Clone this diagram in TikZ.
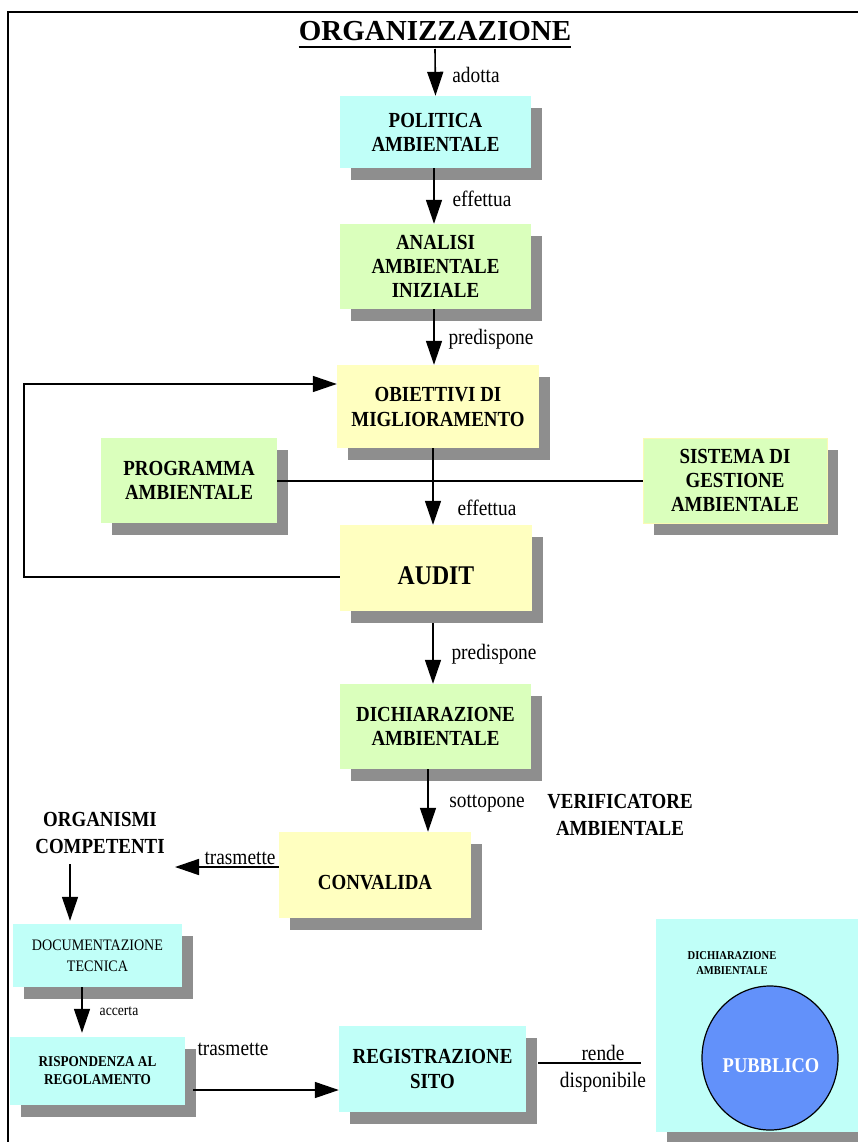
\documentclass[tikz,border=0pt]{standalone}
\usepackage{fontspec}
\setmainfont{Liberation Serif}[FakeStretch=0.88]
\newfontfamily\titlefont{Liberation Serif}
\usetikzlibrary{shadows,shapes.geometric,arrows.meta}
\definecolor{cyanbox}{RGB}{192,255,248}
\definecolor{greenbox}{RGB}{218,255,188}
\definecolor{yellowbox}{RGB}{255,255,192}
\definecolor{shgray}{RGB}{142,142,142}
\definecolor{pubblue}{RGB}{98,145,250}
\definecolor{sisborder}{RGB}{250,250,180}
\begin{document}
\begin{tikzpicture}[x=1pt,y=-1pt,
  box/.style={rectangle, inner sep=0pt, align=center,
    font=\fontsize{21.5}{24}\selectfont\bfseries,
    general shadow={fill=shgray, shadow xshift=11pt, shadow yshift=-12pt}},
  lbl/.style={anchor=base, inner sep=0pt, font=\fontsize{22}{24}\selectfont},
  arr/.style={line width=1.6pt, -{Triangle[length=24pt,width=16pt]}},
  ln/.style={line width=1.8pt},
  free/.style={align=center, inner sep=0pt, font=\fontsize{21.5}{27}\selectfont\bfseries}]
\clip (0,0) rectangle (858,1142);
\fill[white] (0,0) rectangle (858,1142);
% frame
\draw[line width=1.8pt] (8,1142) -- (8,12) -- (858,12);

% boxes
\node[box, fill=cyanbox, minimum width=191pt, minimum height=72pt] (pol) at (435.5,132) {POLITICA\\AMBIENTALE};
\node[box, fill=greenbox, minimum width=191pt, minimum height=85pt] (ana) at (435.5,266.5) {ANALISI\\AMBIENTALE\\INIZIALE};
\node[box, fill=yellowbox, minimum width=202pt, minimum height=83pt, font=\fontsize{21.5}{25}\selectfont\bfseries] (obi) at (438,406.5) {OBIETTIVI DI\\MIGLIORAMENTO};
\node[box, fill=greenbox, minimum width=176pt, minimum height=85pt] (prog) at (189,480.5) {PROGRAMMA\\AMBIENTALE};
\node[box, fill=greenbox, draw=sisborder, line width=1pt, minimum width=184pt, minimum height=85pt] (sis) at (735,480.5) {SISTEMA DI\\GESTIONE\\AMBIENTALE};
\node[box, fill=yellowbox, minimum width=192pt, minimum height=86pt, text height=32pt, text depth=0pt, font=\fontsize{27}{30}\selectfont\bfseries] (aud) at (436,568) {AUDIT};
\node[box, fill=greenbox, minimum width=191pt, minimum height=85pt] (dich) at (435.5,726.5) {DICHIARAZIONE\\AMBIENTALE};
\node[box, fill=yellowbox, minimum width=192pt, minimum height=86pt, text height=28pt, text depth=0pt] (conv) at (375,875) {CONVALIDA};
\node[box, fill=cyanbox, minimum width=169pt, minimum height=63pt, font=\fontsize{16}{21}\selectfont] (doc) at (97.5,955.5) {DOCUMENTAZIONE\\TECNICA};
\node[box, fill=cyanbox, minimum width=175pt, minimum height=68pt, font=\fontsize{15}{18}\selectfont\bfseries] (risp) at (97.5,1071) {RISPONDENZA AL\\REGOLAMENTO};
\node[box, fill=cyanbox, minimum width=187pt, minimum height=86pt, font=\fontsize{21.5}{25}\selectfont\bfseries] (reg) at (432.5,1069) {REGISTRAZIONE\\SITO};
\node[box, fill=cyanbox, minimum width=214pt, minimum height=213pt] (pubbox) at (763,1025.5) {};
\node[free, font=\fontsize{12}{15}\selectfont\bfseries] (pubhead) at (732,963) {DICHIARAZIONE\\AMBIENTALE};
\node[ellipse, draw, line width=1.2pt, fill=pubblue, minimum width=136pt, minimum height=144pt] (pub) at (770,1058) {};
\node[free, text=white, font=\fontsize{21}{24}\selectfont\bfseries] (pubt) at (771,1066) {PUBBLICO};

% free texts
\node[anchor=base, inner sep=0pt, font=\titlefont\fontsize{29}{30}\selectfont\bfseries] (title) at (435,41) {ORGANIZZAZIONE};
\draw[line width=2pt] ([yshift=-6pt]title.base west) -- ([yshift=-6pt]title.base east);
\node[free] (org) at (100,833) {ORGANISMI\\COMPETENTI};
\node[free] (ver) at (620,815) {VERIFICATORE\\AMBIENTALE};

% connectors
\draw[arr] ([yshift=-8pt]title.base) -- (pol.north);
\draw[arr] ([xshift=-1.5pt]pol.south) -- ([xshift=-1.5pt]ana.north);
\draw[arr] ([xshift=-1.5pt]ana.south) -- ([xshift=-1.5pt]ana.south |- obi.north);
\draw[arr] ([xshift=-5pt]obi.south) -- ([xshift=-5pt]obi.south |- aud.north);
\draw[ln] ([yshift=-0.5pt]prog.east) -- ([yshift=-0.5pt]sis.west);
\coordinate (fb1) at (24,577);
\coordinate (fb2) at (24,384);
\draw[arr] ([yshift=-9pt]aud.west) -- (fb1) -- (fb2) -- (obi.west |- fb2);
\draw[arr] ([xshift=-3pt,yshift=-12pt]aud.south) -- ([xshift=-3pt]aud.south |- dich.north);
\draw[arr] ([xshift=-7.5pt]dich.south) -- ([xshift=-7.5pt]dich.south |- conv.north);
\coordinate (t1) at (175,867);
\draw[arr] (conv.west |- t1) -- (t1);
\coordinate (o1) at (70,864);
\draw[arr, shorten >=3pt] (o1) -- (o1 |- doc.north);
\draw[arr, shorten >=4pt] ([xshift=-15.5pt]doc.south) -- ([xshift=-15.5pt]doc.south |- risp.north);
\coordinate (r1) at (193,1090);
\draw[arr] (r1) -- (reg.west |- r1);
\coordinate (rd) at (641,1063);
\draw[line width=1.3pt] ([xshift=12pt]reg.east |- rd) -- (rd);

% labels
\node[lbl] (l1) at (476,83) {adotta};
\node[lbl] (l2) at (482,207) {effettua};
\node[lbl] (l3) at (491,344) {predispone};
\node[lbl] (l4) at (487,515) {effettua};
\node[lbl] (l5) at (494,659) {predispone};
\node[lbl] (l6) at (487,807) {sottopone};
\node[lbl] (l7) at (240,864) {trasmette};
\node[lbl, font=\fontsize{15.5}{18}\selectfont] (l8) at (119,1015) {accerta};
\node[lbl] (l9) at (233,1055) {trasmette};
\node[lbl] (l10) at (603,1060) {rende};
\node[lbl] (l11) at (603,1087) {disponibile};
\end{tikzpicture}
\end{document}
